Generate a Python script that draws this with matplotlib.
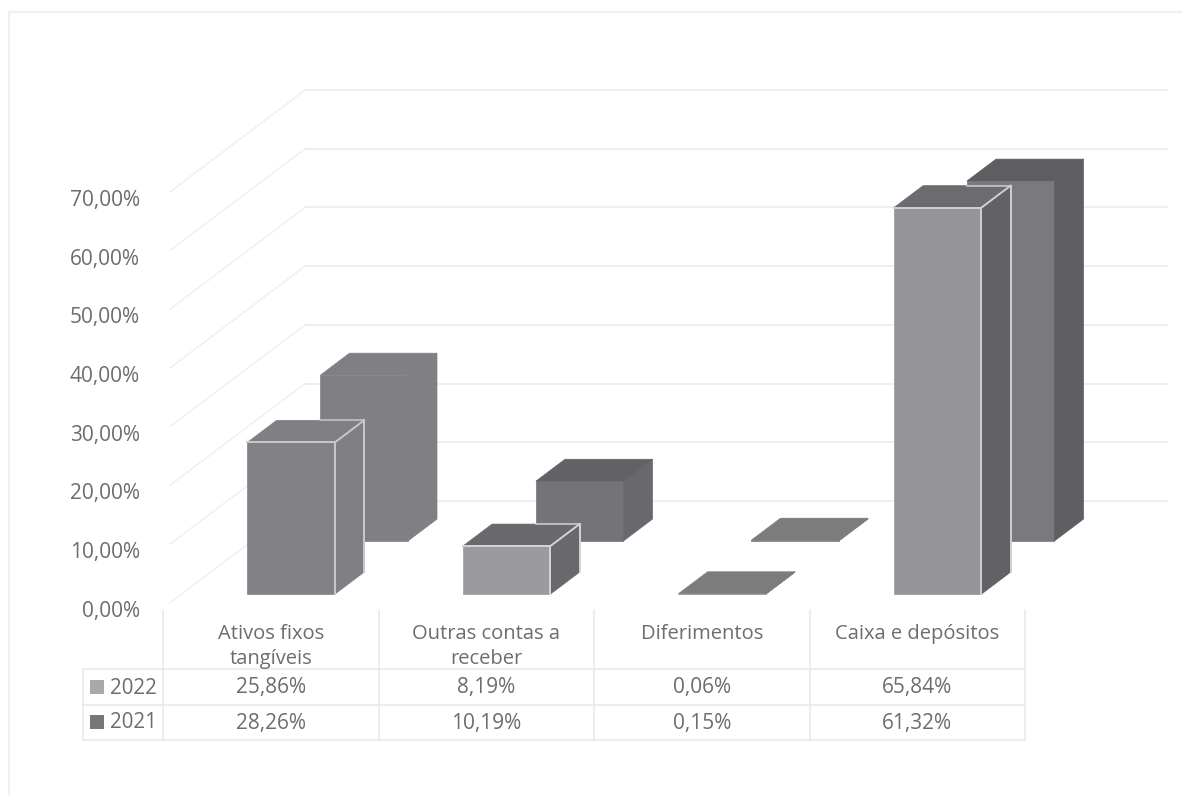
import matplotlib
matplotlib.use("Agg")
import matplotlib.pyplot as plt
from matplotlib.lines import Line2D
from matplotlib.patches import Polygon

categories = ["Ativos fixos\ntangíveis", "Outras contas a\nreceber", "Diferimentos", "Caixa e depósitos"]
years = ["2022", "2021"]
values_2022 = [25.86, 8.19, 0.06, 65.84]
values_2021 = [28.26, 10.19, 0.15, 61.32]
ticks = [0, 10, 20, 30, 40, 50, 60, 70]


def pct(v):
    return f"{v:.2f}%".replace(".", ",")


plt.rcParams["font.family"] = ["Open Sans", "DejaVu Sans"]
TEXT = "#6c6c71"
WALL = "#f0f0f0"
GRID = "#ebebeb"
TABLE = "#e8e8e8"

# layout of the fake 3d box, in pixels of the 1182x796 picture
W, H = 1182, 796
LEFT, FLOOR = 163, 608
CAT_W = 215.5
PX_PCT = 5.87
WALL_DX, WALL_DY = 142 / CAT_W, 107 / PX_PCT  # floor depth in data units
BAR_OFF = 66 / CAT_W
BAR_W = 87.5 / CAT_W
BAR_DEPTH = 0.205
FRONT_Z, BACK_Z = 0.13, 0.626
BACK_SHIFT = 2.5 / CAT_W

fig = plt.figure(figsize=(W / 100, H / 100), dpi=100, facecolor="white")
ax = fig.add_axes([0, 0, 1, 1])
ax.set_xlim(-LEFT / CAT_W, (W - LEFT) / CAT_W)
ax.set_ylim((FLOOR - H) / PX_PCT, FLOOR / PX_PCT)
ax.axis("off")


def row_y(px):
    return (FLOOR - px) / PX_PCT


def proj(x, v, z):
    return x + z * WALL_DX, v + z * WALL_DY


def draw_bar(i, v, z, zo, front, side, top, edge=None, shift=0):
    x0, x1 = i + BAR_OFF + shift, i + BAR_OFF + BAR_W + shift
    z1 = z + BAR_DEPTH
    a, b = proj(x0, 0, z), proj(x1, 0, z)
    c, d = proj(x1, v, z), proj(x0, v, z)
    e, f = proj(x1, v, z1), proj(x0, v, z1)
    g = proj(x1, 0, z1)
    ax.add_patch(Polygon([a, b, c, d], fc=front, ec=front, lw=0.5, zorder=zo))
    ax.add_patch(Polygon([b, g, e, c], fc=side, ec=side, lw=0.5, zorder=zo))
    ax.add_patch(Polygon([d, c, e, f], fc=top, ec=top, lw=0.5, zorder=zo))
    if edge:
        for p, q in [(d, c), (c, b), (c, e), (e, g)]:
            ax.plot([p[0], q[0]], [p[1], q[1]], color=edge, lw=1.4, zorder=zo + 0.5)
        # back edge of the top only shows where the 2021 bar sits behind it
        start = i + BAR_OFF + BACK_SHIFT + BACK_Z * WALL_DX
        ax.plot([start, e[0]], [e[1], e[1]], color=edge, lw=1.1, zorder=zo + 0.5)


# walls
for t in ticks:
    p0, p1 = proj(0, t, 0.05), proj(0, t, 1)
    p2 = proj(4, t, 1)
    ax.plot([p0[0], p1[0]], [p0[1], p1[1]], color=WALL, lw=1.1, zorder=1)
    ax.plot([p1[0], p2[0]], [p1[1], p2[1]], color=GRID, lw=1.1, zorder=1)
    ax.text(-23 / CAT_W, t - 0.55, pct(t), ha="right", va="center", fontsize=15, color=TEXT, zorder=5)

# back row then front row
back_styles = [
    ("#807f84", "#807f84", "#807f84"),
    ("#747378", "#69686d", "#626166"),
    ("#7c7c7c", "#7c7c7c", "#7c7c7c"),
    ("#7a797e", "#5f5e63", "#5e5d62"),
]
front_styles = [
    ("#828186", "#807f84", "#807f84", "#c9c8cc"),
    ("#9b9a9d", "#69686d", "#69686d", "#d4d3d6"),
    ("#7c7c7c", "#7c7c7c", "#7c7c7c", None),
    ("#959498", "#626166", "#6c6b70", "#d0cfd2"),
]
for i, v in enumerate(values_2021):
    draw_bar(i, v, BACK_Z, 2, *back_styles[i], shift=BACK_SHIFT)
for i, v in enumerate(values_2022):
    draw_bar(i, v, FRONT_Z, 3, *front_styles[i])

# data table
y_head, y_a, y_b = row_y(669), row_y(705), row_y(740)
for y in (y_head, y_a, y_b):
    ax.plot([-80 / CAT_W, 4], [y, y], color=TABLE, lw=1.1, zorder=1)
for i in range(5):
    ax.plot([i, i], [row_y(610), y_b], color=TABLE, lw=1.1, zorder=1)
ax.plot([-80 / CAT_W] * 2, [y_head, y_b], color=TABLE, lw=1.1, zorder=1)

for i, name in enumerate(categories):
    ax.text(i + 0.5, row_y(624), name, ha="center", va="top", fontsize=14.5,
            color=TEXT, linespacing=1.36, zorder=5)
    ax.text(i + 0.5, row_y(688), pct(values_2022[i]), ha="center", va="center",
            fontsize=15, color=TEXT, zorder=5)
    ax.text(i + 0.5, row_y(723), pct(values_2021[i]), ha="center", va="center",
            fontsize=15, color=TEXT, zorder=5)

for name, px, key in [(years[0], 687, "#a9a8ab"), (years[1], 722, "#77767b")]:
    ax.text(-53 / CAT_W, row_y(px + 1), name, ha="left", va="center", fontsize=14.8, color=TEXT, zorder=5)
    ax.plot([-66.5 / CAT_W], [row_y(px)], marker="s", ms=9.5, color=key, mew=0, zorder=5)

# outer chart frame
fig.add_artist(Line2D([9 / W, 9 / W], [0, 1 - 12 / H], color="#f0f0f0", lw=1.6))
fig.add_artist(Line2D([9 / W, 1], [1 - 12 / H, 1 - 12 / H], color="#f0f0f0", lw=1.6))

fig.savefig("out.png", dpi=100, facecolor="white")
